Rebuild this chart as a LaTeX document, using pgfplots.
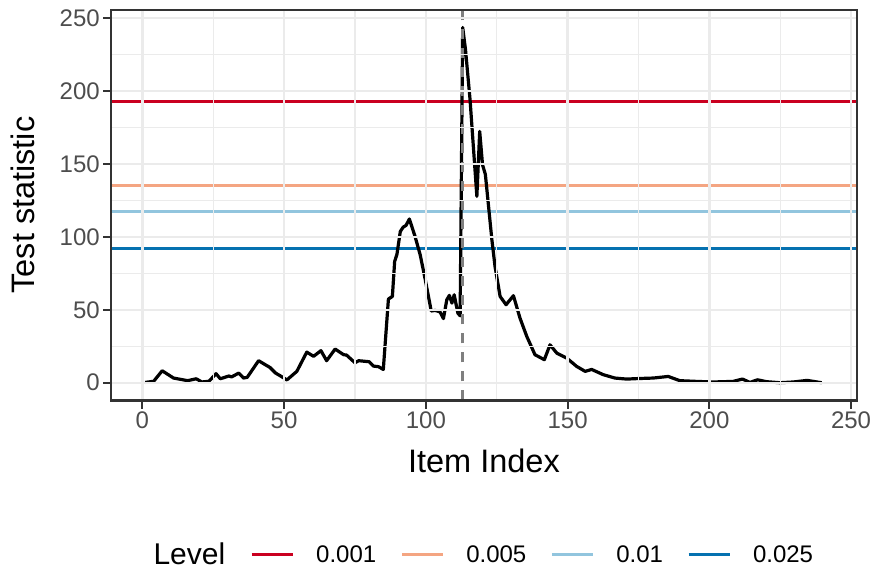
\documentclass[border=0pt]{standalone}
\usepackage{fontspec}
\setmainfont{Liberation Sans}
\usepackage{pgfplots}
\pgfplotsset{compat=1.18}
\definecolor{lvA}{HTML}{CA0020}
\definecolor{lvB}{HTML}{F4A582}
\definecolor{lvC}{HTML}{92C5DE}
\definecolor{lvD}{HTML}{0571B0}
\definecolor{gridc}{HTML}{EBEBEB}
\definecolor{gtwenty}{HTML}{333333}
\definecolor{gthirty}{HTML}{4D4D4D}
\definecolor{gfifty}{HTML}{7F7F7F}
\begin{document}
\begin{tikzpicture}
\begin{axis}[
  set layers=axis on top,
  scale only axis, width=745.3bp, height=390.8bp,
  xmin=-10.95, xmax=251.95, ymin=-12.2, ymax=255.9,
  xtick={0,50,...,250}, ytick={0,50,...,250},
  minor xtick={25,75,...,225}, minor ytick={25,75,...,225},
  grid=both,
  major grid style={color=gridc, line width=2.4bp},
  minor grid style={color=gridc, line width=1.2bp},
  axis line style={color=gtwenty, line width=2bp},
  tick align=outside, xtick pos=bottom, ytick pos=left,
  major tick length=8bp, minor tick length=0bp,
  tick style={color=gtwenty, line width=2bp},
  tick label style={font=\fontsize{24bp}{28bp}\selectfont, color=gthirty},
  /pgf/number format/assume math mode=true,
  label style={font=\fontsize{32.5bp}{38bp}\selectfont, color=black},
  xlabel={Item Index}, ylabel={Test statistic},
  xlabel style={at={(axis description cs:0.5,-0.1548)}, anchor=center},
  ylabel style={at={(axis description cs:-0.1180,0.5)}, anchor=center},
  legend columns=4,
  legend style={draw=none, fill=none, inner sep=0pt,
    at={(axis description cs:0.1861,-0.3953)}, anchor=west,
    font=\fontsize{24bp}{28bp}\selectfont,
    nodes={inner sep=0pt},
    /tikz/every odd column/.append style={column sep=22bp},
    /tikz/every even column/.append style={column sep=24bp}},
  legend image code/.code={\draw[#1] (0bp,0bp) -- (41bp,0bp);},
]
\addplot[lvA, line width=3bp] coordinates {(-10.95,192.8) (251.95,192.8)};
\addlegendentry{0.001}
\addplot[lvB, line width=3bp] coordinates {(-10.95,135.6) (251.95,135.6)};
\addlegendentry{0.005}
\addplot[lvC, line width=3bp] coordinates {(-10.95,117.7) (251.95,117.7)};
\addlegendentry{0.01}
\addplot[lvD, line width=3bp] coordinates {(-10.95,92.4) (251.95,92.4)};
\addlegendentry{0.025}
\addplot[black, line width=3.2bp, line join=round, forget plot] table {
x y
1 0.2
4 1
7 8.2
11 3.2
16 1.4
19 2.7
21 0.5
23.5 1
26 6.2
27.5 2.7
30.5 4.6
31.5 4
34 6.6
35.7 3.2
37 3.7
41 15.1
43.4 12.3
45 10.5
47 6.6
48.6 4.8
51 1.9
54.5 7.8
58 21
60.4 18.1
63 22
65 15.1
68 23.1
71 19.2
72 19
75 13.7
76.3 15.1
80 14.4
81.5 11.4
83.3 11
85 9.1
86.8 57.4
88.2 59.2
89 83.2
89.8 88
91 103.8
92 106.7
93 107.9
94.2 112.3
96.2 100.3
98 87.8
99.8 70.7
101.9 49.2
103.3 49.6
105 48.6
106.2 44
107.4 56.9
108.3 59.9
109.2 54.6
110 60.3
111.3 47.7
112.1 45.9
113 243.7
114 228.4
115.6 194.1
118 127.8
119 172.4
120 149.5
121 142.9
123.3 98
124.4 79.8
126.2 59.2
128.3 53.5
130.9 59.7
133.2 44.4
135.6 31.8
138.5 19.2
141.8 15.8
143.8 26
146.2 20.3
149.7 16.9
153.2 11.2
156.2 7.8
158.5 9.1
162.6 5.5
166.7 3.2
170.8 2.5
175.5 2.9
180.2 3.2
185.5 4.3
189.6 1.4
195.5 0.9
201.4 0.5
208.4 0.9
211.7 2.5
214.3 0.2
217 2
220.2 0.7
224.9 0
229.6 0.5
234.5 1.6
239.6 0
};
\addplot[gfifty, line width=3bp, dash pattern=on 10bp off 9bp, forget plot] coordinates {(113,-12.2) (113,255.9)};
\end{axis}
\node[anchor=base west, inner sep=0pt, font=\fontsize{30bp}{36bp}\selectfont] at (42bp,-163.5bp) {Level};
\pgfresetboundingbox
\path (-111.3bp,-168.5bp) rectangle (763.7bp,400.5bp);
\end{tikzpicture}
\end{document}
